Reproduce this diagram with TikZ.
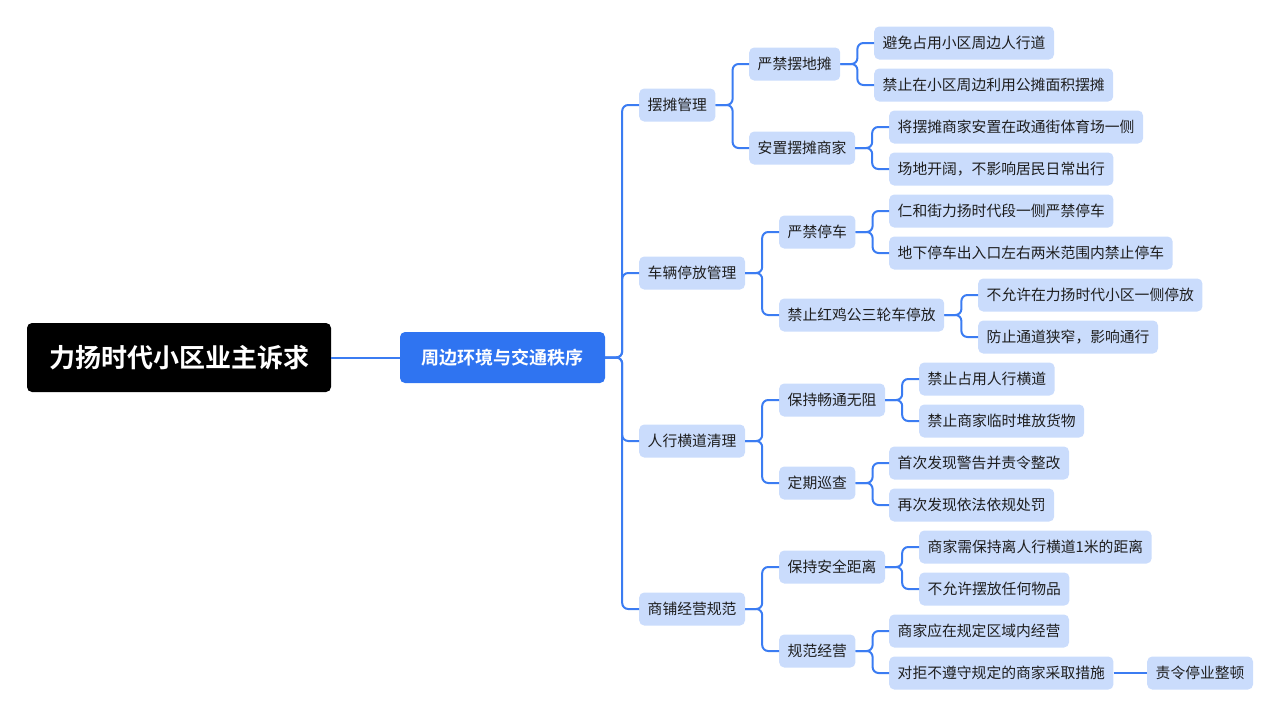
\documentclass[tikz,border=0pt]{standalone}
\usepackage{fontspec}
\setmainfont{Noto Sans CJK SC}[BoldFont={Noto Sans CJK SC Bold}]
\usepackage{xcolor}
\definecolor{mapblue}{HTML}{2F74F1}
\definecolor{linkblue}{HTML}{3B7CF2}
\definecolor{leafblue}{HTML}{CADCFC}
\definecolor{leaftext}{HTML}{1E1E1E}
\begin{document}
\begin{tikzpicture}[x=1pt,y=-1pt,
  leaf/.style={fill=leafblue, rounded corners=5pt, text=leaftext, anchor=west,
    font=\fontsize{14.8}{16}\selectfont, inner xsep=8.5pt, inner ysep=0pt, minimum height=33pt},
  link/.style={draw=linkblue, line width=2pt, rounded corners=6pt}]
\useasboundingbox (0,0) rectangle (1280,716);
\node[fill=black, rounded corners=5pt, text=white, minimum width=304pt, minimum height=69pt,
  font=\fontsize{26}{30}\selectfont\bfseries] (root) at (179,357.5) {力扬时代小区业主诉求};
\node[fill=mapblue, rounded corners=5pt, text=white, minimum width=205pt, minimum height=51pt,
  font=\fontsize{18}{22}\selectfont\bfseries] (env) at (502.5,357.5) {周边环境与交通秩序};
\foreach \nm/\x/\y/\txt in {
  stall/639/105/摆摊管理,
  car/639/273/车辆停放管理,
  walk/639/441/人行横道清理,
  shop/639/609/商铺经营规范,
  s1/749/64/严禁摆地摊,
  s2/749/148/安置摆摊商家,
  c1/779/232/严禁停车,
  c2/779/315/禁止红鸡公三轮车停放,
  w1/779/400/保持畅通无阻,
  w2/779/483/定期巡查,
  p1/779/567/保持安全距离,
  p2/779/651/规范经营,
  s1a/874/43/避免占用小区周边人行道,
  s1b/874/85/禁止在小区周边利用公摊面积摆摊,
  s2a/889/127/将摆摊商家安置在政通街体育场一侧,
  s2b/889/169/场地开阔，不影响居民日常出行,
  c1a/889/211/仁和街力扬时代段一侧严禁停车,
  c1b/889/253/地下停车出入口左右两米范围内禁止停车,
  c2a/978/295/不允许在力扬时代小区一侧停放,
  c2b/978/337/防止通道狭窄，影响通行,
  w1a/919/379/禁止占用人行横道,
  w1b/919/421/禁止商家临时堆放货物,
  w2a/889/463/首次发现警告并责令整改,
  w2b/889/505/再次发现依法依规处罚,
  p1a/919/547/商家需保持离人行横道1米的距离,
  p1b/919/589/不允许摆放任何物品,
  p2a/889/631/商家应在规定区域内经营,
  p2b/889/673/对拒不遵守规定的商家采取措施,
  p2c/1147/673/责令停业整顿}
{
  \node[leaf] (\nm) at (\x,\y) {\txt};
}
\draw[link] (root.east) -- (env.west);
\draw[link] (p2b.east) -- (p2c.west);
\foreach \p/\c in {env/stall, env/car, env/walk, env/shop,
  stall/s1, stall/s2, car/c1, car/c2, walk/w1, walk/w2, shop/p1, shop/p2,
  s1/s1a, s1/s1b, s2/s2a, s2/s2b, c1/c1a, c1/c1b, c2/c2a, c2/c2b,
  w1/w1a, w1/w1b, w2/w2a, w2/w2b, p1/p1a, p1/p1b, p2/p2a, p2/p2b}
  \draw[link] (\p.east) -- ++(17,0) |- (\c.west);
\end{tikzpicture}
\end{document}
